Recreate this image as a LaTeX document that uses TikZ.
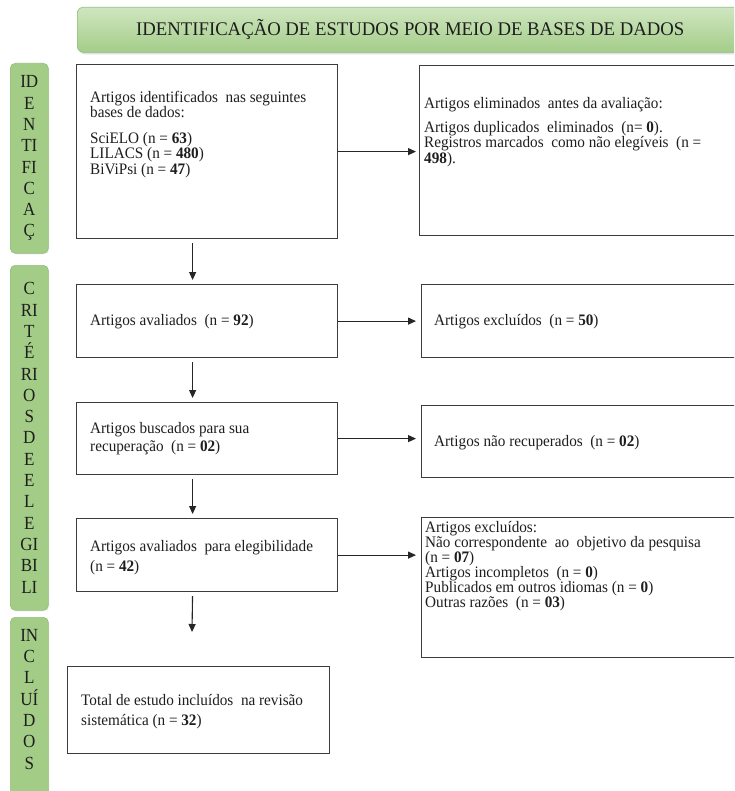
\documentclass[tikz,border=0pt]{standalone}
\usepackage{fontspec}
\setmainfont{Liberation Serif}[FakeStretch=0.95]
\newfontfamily\headfont{Liberation Serif}[FakeStretch=0.97]
\newfontfamily\barfont{Liberation Serif}[FakeStretch=0.92]
\usetikzlibrary{positioning,arrows.meta,shadows}
\definecolor{bannertop}{HTML}{CFE6C0}
\definecolor{bannerbot}{HTML}{A4CD89}
\definecolor{barside}{HTML}{A3CC87}
\definecolor{barmid}{HTML}{B6D99F}
\definecolor{barline}{HTML}{94BF7C}
\definecolor{boxline}{HTML}{3C3C3C}
\definecolor{inktext}{HTML}{1E1E1E}
\newcommand{\tightlines}{\lineskiplimit=-50pt\relax}

\begin{document}
\begin{tikzpicture}[x=1pt, y=-1pt,
	flowbox/.style={draw=boxline, line width=1.2pt, rectangle, inner sep=0pt, anchor=north west},
	boxtext/.style={inner sep=0pt, anchor=north west, align=left, text=inktext, font=\fontsize{16}{15.5}\selectfont, execute at begin node=\tightlines},
	listboxtext/.style={boxtext, font=\fontsize{16}{15}\selectfont},
	midboxtext/.style={boxtext, font=\fontsize{16}{18}\selectfont},
	looseboxtext/.style={boxtext, font=\fontsize{16}{20}\selectfont},
	sidebar/.style={rounded corners=5pt, draw=barline, line width=0.6pt, left color=barside, middle color=barmid, right color=barside, inner sep=0pt, anchor=north west, minimum width=38pt, align=center, text=inktext, font=\barfont\fontsize{18.5}{21.3}\selectfont, drop shadow={shadow xshift=1pt, shadow yshift=-1pt, opacity=0.15}},
	banner/.style={rounded corners=6pt, draw=barline, line width=0.6pt, top color=bannertop, bottom color=bannerbot, inner sep=0pt, anchor=north west, text=inktext, font=\headfont\fontsize{19.3}{22}\selectfont, drop shadow={shadow xshift=1.5pt, shadow yshift=-2pt, opacity=0.25}},
	flowarrow/.style={-{Triangle[length=8pt,width=7pt]}, line width=1.1pt, draw=black!85}
	]
	%%%%% START %%%%%
	
	\useasboundingbox (0,0) rectangle (734,791);
	\clip (0,0) rectangle (734,791);
	\fill[white] (0,0) rectangle (734,791);
	
	% cabecalho
	\node[banner, minimum width=666pt, minimum height=45pt] (head) at (77,7) {IDENTIFICAÇÃO DE ESTUDOS POR MEIO DE BASES DE DADOS};
	
	% barras laterais
	\node[sidebar, minimum height=190pt] (idbar) at (10,63) {ID\\E\\N\\TI\\FI\\C\\A\\Ç};
	\node[sidebar, minimum height=345pt] (critbar) at (10,265) {C\\RI\\T\\É\\RI\\O\\S\\D\\E\\E\\L\\E\\GI\\BI\\LI};
	\node[sidebar, minimum height=185pt] (inclbar) at (10,617) {IN\\C\\L\\UÍ\\D\\O\\S\\ \mbox{}};
	
	% caixas da esquerda
	\node[flowbox, minimum width=261pt, minimum height=174pt] (idbox) at (76,64) {};
	\node[flowbox, minimum width=261pt, minimum height=73pt] (avalbox) at (76,284) {};
	\node[flowbox, minimum width=261pt, minimum height=72pt] (buscbox) at (76,402) {};
	\node[flowbox, minimum width=261pt, minimum height=73pt] (elegbox) at (76,518) {};
	\node[flowbox, minimum width=262pt, minimum height=87pt] (totalbox) at (67,666) {};
	
	% caixas da direita
	\node[flowbox, minimum width=321pt, minimum height=170pt] (elimbox) at (419,65) {};
	\node[flowbox, minimum width=319pt, minimum height=73pt] (exclbox) at (421,284) {};
	\node[flowbox, minimum width=319pt, minimum height=72pt] (naorecbox) at (421,405) {};
	\node[flowbox, minimum width=319pt, minimum height=140pt] (motivbox) at (421,517) {};
	
	% textos
	\node[boxtext, below right=27pt and 14pt of idbox.north west] (idtext) {Artigos identificados\ \ nas seguintes\\ bases de dados:\\[10pt] SciELO (n = \textbf{63})\\ LILACS (n = \textbf{480})\\ BiViPsi (n = \textbf{47})};
	\node[boxtext, below right=32pt and 5pt of elimbox.north west] (elimtext) {Artigos eliminados\ \ antes da avaliação:\\[8.5pt] Artigos duplicados\ \ eliminados\ \ (n= \textbf{0}).\\ Registros marcados\ \ como não elegíveis\ \ (n =\\ \textbf{498}).};
	\node[boxtext, below right=30pt and 14pt of avalbox.north west] (avaltext) {Artigos avaliados\ \ (n = \textbf{92})};
	\node[boxtext, below right=30pt and 13pt of exclbox.north west] (excltext) {Artigos excluídos\ \ (n = \textbf{50})};
	\node[midboxtext, below right=20pt and 14pt of buscbox.north west] (busctext) {Artigos buscados para sua\\ recuperação\ \ (n = \textbf{02})};
	\node[boxtext, below right=30pt and 13pt of naorecbox.north west] (naorectext) {Artigos não recuperados\ \ (n = \textbf{02})};
	\node[looseboxtext, below right=22pt and 14pt of elegbox.north west] (elegtext) {Artigos avaliados\ \ para elegibilidade\\ (n = \textbf{42})};
	\node[listboxtext, below right=4pt and 4pt of motivbox.north west] (motivtext) {Artigos excluídos:\\ Não correspondente\ \ ao\ \ objetivo da pesquisa\\ (n = \textbf{07})\\ Artigos incompletos\ \ (n = \textbf{0})\\ Publicados em outros idiomas (n = \textbf{0})\\ Outras razões\ \ (n = \textbf{03})};
	\node[looseboxtext, below right=28pt and 14pt of totalbox.north west] (totaltext) {Total de estudo incluídos\ \ na revisão\\ sistemática (n = \textbf{32})};
	
	% setas
	\draw[flowarrow, shorten >=3pt] (idbox.east) -- (idbox.east -| elimbox.west);
	\draw[flowarrow, shorten >=5pt] (avalbox.east) -- (avalbox.east -| exclbox.west);
	\draw[flowarrow, shorten >=5pt] (buscbox.east) -- (buscbox.east -| naorecbox.west);
	\draw[flowarrow, shorten >=5pt] (elegbox.east) -- (elegbox.east -| motivbox.west);
	
	\draw[flowarrow, shorten <=4pt, shorten >=4pt] ([xshift=-14.5pt]idbox.south) -- ([xshift=-14.5pt]avalbox.north);
	\draw[flowarrow, shorten <=4pt, shorten >=4pt] ([xshift=-14.5pt]avalbox.south) -- ([xshift=-14.5pt]buscbox.north);
	\draw[flowarrow, shorten <=4pt, shorten >=4pt] ([xshift=-14.5pt]buscbox.south) -- ([xshift=-14.5pt]elegbox.north);
	\coordinate (elegend) at (192,632);
	\draw[flowarrow, shorten <=4pt] ([xshift=-14.5pt]elegbox.south) -- (elegend);
	
	%%%%% END %%%%%
\end{tikzpicture}
\end{document}
